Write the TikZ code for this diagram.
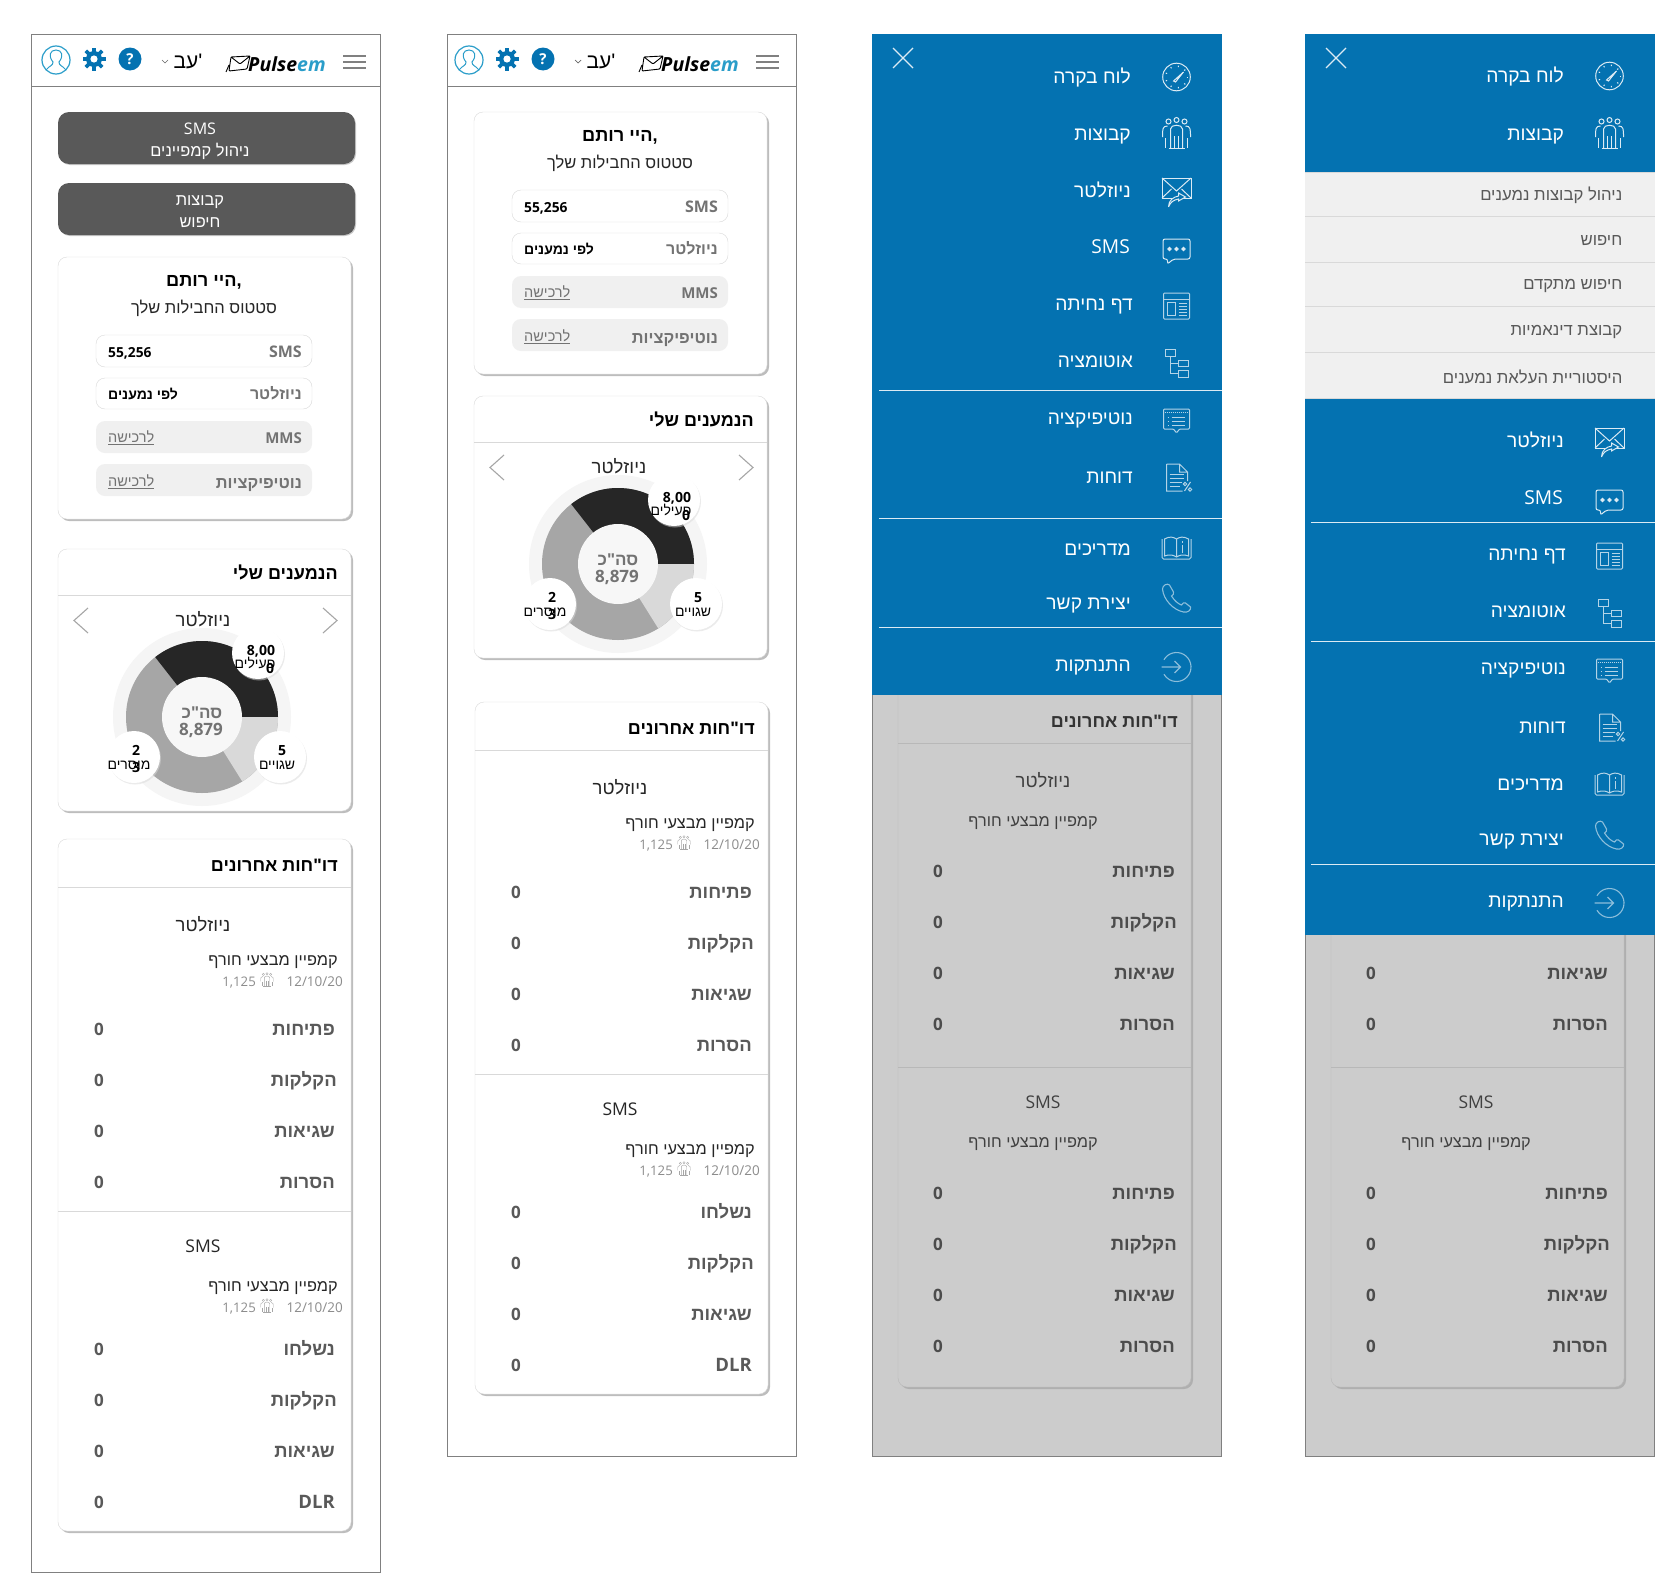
\documentclass[tikz,border=0pt]{standalone}
\usepackage{fontspec}
\setmainfont{Open Sans}
\newfontfamily\hebfont[Script=Hebrew]{Liberation Sans}
\TeXXeTstate=1
\usetikzlibrary{shadows}

\definecolor{menublue}{HTML}{0472B1}
\definecolor{frameline}{HTML}{808080}
\definecolor{btngray}{HTML}{595959}
\definecolor{dimfill}{HTML}{CCCCCC}
\definecolor{iconsoft}{HTML}{8CBEDB}
\definecolor{iconmid}{HTML}{B4D4E7}
\definecolor{iconline}{HTML}{DCEBF4}
\definecolor{logoblue}{HTML}{2A9DC9}

\newcommand\heb[1]{{\hebfont\beginR #1\endR}}

\tikzset{
    txt/.style={inner sep=0pt, anchor=mid east, font=\fontsize{#1}{#1}\selectfont},
    boldtxt/.style={inner sep=0pt, anchor=mid east, font=\bfseries\fontsize{#1}{#1}\selectfont},
    cardbox/.style={draw=black!15, fill=white, rounded corners=9pt, drop shadow={shadow xshift=2pt, shadow yshift=-2pt, fill=black!40, opacity=.65}},
    dimbox/.style={draw=black!28, fill=dimfill, rounded corners=9pt, drop shadow={shadow xshift=2pt, shadow yshift=-2pt, fill=black!45, opacity=.45}},
    cardline/.style={draw=black!15, line width=.8pt},
    btnbox/.style={fill=btngray, rounded corners=11pt, drop shadow={shadow xshift=1pt, shadow yshift=-1pt, fill=black!30, opacity=.7}},
    menuicon/.style={draw=iconline, line width=1pt},
    softicon/.style={draw=iconsoft, line width=1.1pt},
    midicon/.style={draw=iconmid, line width=1pt},
    menusep/.style={draw=iconline, line width=.9pt},
    subsep/.style={draw=black!15, line width=.9pt},
}

% menu icons, drawn round (0,0)
\newcommand\icongauge{%
    \draw (0,0) circle[radius=13.8];
    \foreach \a in {0,40,...,320} \draw (\a:10) -- (\a:11.5);
    \draw (-3,4) -- (7,-5) -- (-1,5) -- cycle;
}
\newcommand\icongroup{%
    \foreach \x/\y in {-8/-12.5,0/-14,8/-12.5} \draw (\x,\y) circle[radius=2.5];
    \draw (-6,14) -- (-6,-5) .. controls (-6,-10) and (6,-10) .. (6,-5) -- (6,14);
    \draw (-8,14) -- (8,14) (-2,2) -- (-2,14) (2,2) -- (2,14);
    \draw (-9,-8) .. controls (-14,-8) and (-14,-5) .. (-14,3) (9,-8) .. controls (14,-8) and (14,-5) .. (14,3);
    \draw (-11,4) -- (-11,14) (11,4) -- (11,14);
}
\newcommand\iconmail{%
    \draw (-14.5,-14) rectangle (14.5,6);
    \draw (-14.5,-14) -- (0,-1) -- (14.5,-14) (-14.5,6) -- (-5,-3) (14.5,6) -- (5,-3);
    \draw[fill=menublue] (-8,15) .. controls (-8,8) and (-3,5) .. (2,4) -- (2,1) -- (9,5) -- (2,9) -- (2,7) .. controls (-3,8) and (-6,10) .. (-8,15);
}
\newcommand\iconsms{%
    \draw[rounded corners=2pt] (-9,8) -- (-13.5,8) -- (-13.5,-12) -- (13.5,-12) -- (13.5,8) -- (-3,8) -- (-9,13) -- cycle;
    \foreach \x in {-7,0,7} \fill[iconline] (\x,-2) circle[radius=1.7];
}
\newcommand\iconpage{%
    \begin{scope}[every path/.append style={midicon}]
        \draw[rounded corners=1pt] (-13,-13) rectangle (13,13);
        \draw (-13,-7) -- (13,-7);
        \draw (-9,-4) rectangle (-1,9);
        \foreach \y in {-3,0,3,6,9} \draw (2,\y) -- (10,\y);
    \end{scope}
}
\newcommand\icontree{%
    \begin{scope}[every path/.append style={midicon}]
        \draw (-11,-14) rectangle (-1,-7) (2,-3) rectangle (12,3) (2,7) rectangle (12,14);
        \draw (-6,-7) -- (-6,10) -- (2,10) (-6,0) -- (2,0);
    \end{scope}
}
\newcommand\iconnotify{%
    \begin{scope}[every path/.append style={midicon}]
        \draw[rounded corners=1pt] (-3,8) -- (-13,8) -- (-13,-12) -- (13,-12) -- (13,8) -- (3,8) -- (0,12) -- cycle;
        \draw[densely dotted] (-12,-9) -- (12,-9);
        \foreach \y in {-4,0,4} {\draw (-9,\y) -- (-7.5,\y); \draw (-5,\y) -- (8,\y);}
    \end{scope}
}
\newcommand\iconreport{%
    \begin{scope}[every path/.append style={midicon}]
        \draw (-10,-14) -- (3,-14) -- (11,-6) -- (11,3) (3,-14) -- (3,-6) -- (11,-6) (-10,-14) -- (-10,13) -- (6,13);
        \foreach \y/\x in {-4/7,0/7,4/5,8/3} \draw (-7,\y) -- (\x,\y);
        \draw (8,13) -- (14,4) (8.5,6) circle[radius=1.7] (13.5,11.5) circle[radius=1.7];
    \end{scope}
}
\newcommand\iconbook{%
    \begin{scope}[every path/.append style={midicon}]
        \draw[rounded corners=1.5pt] (-14.5,-9) -- (-14.5,11) -- (14.5,11) -- (14.5,-9);
        \draw (-12,-9) .. controls (-7,-12) and (-3,-11) .. (0,-9) .. controls (3,-11) and (7,-12) .. (12,-9) -- (12,8) .. controls (7,6) and (3,7) .. (0,9) .. controls (-3,7) and (-7,6) .. (-12,8) -- cycle (0,-9) -- (0,9);
        \draw[line width=1.6pt] (6,-3) -- (6,5) (6,-7) -- (6,-5.5);
    \end{scope}
}
\newcommand\iconphone{%
    \draw[softicon] (-14,-9) .. controls (-14,-13) and (-9,-15) .. (-7,-13) -- (-3,-6) .. controls (-2,-4) and (-4,-3) .. (-5,-2) .. controls (-2,3) and (2,6) .. (5,7) .. controls (6,5) and (8,4) .. (9,5) -- (14,9) .. controls (15,12) and (11,15) .. (7,14) .. controls (-3,12) and (-13,2) .. (-14,-9) -- cycle;
}
\newcommand\iconlogout{%
    \begin{scope}[y=1pt]
        \draw[softicon] (150:14.5) arc (150:-150:14.5);
    \end{scope}
    \draw[softicon] (-15,0) -- (4,0) (-2,-6) -- (4,0) -- (-2,6);
}

\newcommand\menuitem[5]{% y of text, y of icon, right end of text, text, icon
    \node[txt=19.2, text=white] (item#1) at (#3,#1+.5) {#4};
    \begin{scope}[shift={(1176.5,#2)}, every path/.append style={menuicon}]
        #5
    \end{scope}
}

\newcommand\closemark{%
    \draw[iconline, line width=1.3pt] (893,48) -- (913,68) (913,48) -- (893,68);
}

\newcommand\topbar{%
    \draw[logoblue, line width=1.2pt] (56,60) circle[radius=14];
    \draw[logoblue, line width=1pt] (46,70) .. controls (50,65) and (53,66) .. (53,62) .. controls (48,56) and (50,50) .. (56,50) .. controls (62,50) and (64,56) .. (59,62) .. controls (59,66) and (62,65) .. (66,70);
    \foreach \a in {0,45,...,315} \draw[menublue, line width=3.6pt] (94,59) ++(\a:6) -- ++(\a:5.5);
    \fill[menublue] (94,59) circle[radius=8];
    \fill[white] (94,59) circle[radius=3.6];
    \node[circle, fill=menublue, text=white, minimum size=23pt, inner sep=0pt, font=\bfseries\fontsize{15}{15}\selectfont] (help) at (130,59) {?};
    \draw[black!60, line width=.7pt] (162,60) -- (165,63) -- (168,60);
    \node[txt=21, anchor=mid] (lang) at (188,62) {\heb{'עב}};
    \draw[black, line width=.9pt, rounded corners=1pt] (231,57) -- (250,56) -- (247,69) -- (229,71) -- cycle (231,57) -- (240,64) -- (250,56) (226,72) -- (229,65);
    \node[inner sep=0pt, anchor=mid west, font=\bfseries\itshape\fontsize{19.5}{20}\selectfont] (logo) at (248,65) {Pulse\textcolor{logoblue}{em}};
    \foreach \y in {56,62,68} \draw[frameline, line width=1.3pt] (343,\y) -- (366,\y);
}

% status of the packages, at the place it has in the first page
\newcommand\statuscard{%
    \draw[cardbox] (58,257) rectangle (351,519);
    \node[boldtxt=18.2, anchor=mid] (hello) at (204,280.5) {\heb{,היי רותם}};
    \node[txt=16.5, anchor=mid, text=black!85] (sub) at (204,307.5) {\heb{סטטוס החבילות שלך}};
    \foreach \a/\b/\c in {335/367/white,378/409/white} \draw[draw=black!15, fill=\c, rounded corners=9pt] (96,\a) rectangle (312,\b);
    \foreach \a/\b in {421/453,464/496} \fill[black!6, rounded corners=9pt] (96,\a) rectangle (312,\b);
    \node[boldtxt=16, text=black!55] (p1) at (302,351) {SMS};
    \node[boldtxt=16, text=black!55] (p2) at (302,393) {\heb{ניוזלטר}};
    \node[boldtxt=15, text=black!55] (p3) at (302,437.5) {MMS};
    \node[boldtxt=16.4, text=black!55] (p4) at (302,482) {\heb{נוטיפיקציות}};
    \node[boldtxt=13.8, anchor=mid west] (v1) at (108,351) {55,256};
    \node[boldtxt=14, anchor=mid west] (v2) at (108,393) {\heb{לפי נמענים}};
    \node[txt=14.5, anchor=mid west, text=black!55] (v3) at (108,436) {\underline{\heb{לרכישה}}};
    \node[txt=14.5, anchor=mid west, text=black!55] (v4) at (108,480) {\underline{\heb{לרכישה}}};
}

\newcommand\audiencecard{%
    \draw[cardbox] (58,549) rectangle (351,811);
    \draw[cardline] (58,595) -- (351,595);
    \node[boldtxt=18] (title) at (338,573) {\heb{הנמענים שלי}};
    \draw[black!35, line width=1.1pt] (88,608) -- (74,620.5) -- (88,633) (323,608) -- (337,620.5) -- (323,633);
    \node[txt=18.5, anchor=mid, text=black!85] (kind) at (203,620) {\heb{ניוזלטר}};
    \begin{scope}[shift={(202,717)}, y=1pt]
        \fill[black!4] (0,0) circle[radius=89];
        \fill[black!35] (0,0) circle[radius=76];
        \fill[black!85] (0,0) -- (0:76) arc (0:128:76) -- cycle;
        \fill[black!15] (0,0) -- (-58:76) arc (-58:0:76) -- cycle;
        \fill[black!3] (0,0) circle[radius=40];
    \end{scope}
    \node[boldtxt=17, anchor=mid, text=black!55] (sum1) at (202,712) {\heb{סה"כ}};
    \node[boldtxt=17, anchor=mid, text=black!55] (sum2) at (201,729) {8,879};
    \foreach \x/\y in {258/653,134/757,280/757} \fill[white, drop shadow={shadow xshift=1pt, shadow yshift=-1.5pt, fill=black!15, opacity=.5}] (\x,\y) circle[radius=26];
    \node[boldtxt=14, anchor=mid] (d1) at (261,649) {8,00};
    \node[txt=14, anchor=mid] (d2) at (255,662) {\heb{פעילים}};
    \node[boldtxt=14, anchor=mid] (d3) at (270,667) {0};
    \node[boldtxt=14, anchor=mid] (d4) at (136,749) {2};
    \node[txt=14, anchor=mid] (d5) at (129,763) {\heb{מוסרים}};
    \node[boldtxt=14, anchor=mid] (d6) at (136,766) {3};
    \node[boldtxt=14, anchor=mid] (d7) at (282,749) {5};
    \node[txt=14, anchor=mid] (d8) at (277,763) {\heb{שגויים}};
}

\newcommand\reportrow[5]{% y, x of the zero, right end of label, label, colour
    \node[boldtxt=18.5, text=#5] (l#1) at (#3,#1) {#4};
    \node[boldtxt=17, anchor=mid, text=#5] (z#1) at (#2,#1) {0};
}

\newcommand\metaline[1]{%
    \node[txt=13.5, text=black!45] (date#1) at (343,#1) {12/10/20};
    \node[txt=13.2, text=black!45] (count#1) at (256,#1) {1,125};
    \begin{scope}[shift={(267,#1)}, scale=.45, every path/.append style={draw=black!35, line width=.4pt}]
        \icongroup
    \end{scope}
}

\newcommand\reportcard{%
    \draw[cardbox] (58,839) rectangle (351,1531);
    \draw[cardline] (58,887) -- (351,887);
    \draw[cardline] (58,1211) -- (351,1211);
    \node[boldtxt=18] (title) at (338,865) {\heb{דו"חות אחרונים}};
    \node[txt=18.5, anchor=mid, text=black!85] (kind1) at (203,925) {\heb{ניוזלטר}};
    \node[txt=16.3, text=black!85] (camp1) at (338,959) {\heb{קמפיין מבצעי חורף}};
    \metaline{980}
    \reportrow{1029}{99}{335}{\heb{פתיחות}}{black!65}
    \reportrow{1080}{99}{337}{\heb{הקלקות}}{black!65}
    \reportrow{1131}{99}{335}{\heb{שגיאות}}{black!65}
    \reportrow{1182}{99}{335}{\heb{הסרות}}{black!65}
    \node[txt=17.5, anchor=mid, text=black!85] (kind2) at (203,1246) {SMS};
    \node[txt=16.3, text=black!85] (camp2) at (338,1285) {\heb{קמפיין מבצעי חורף}};
    \metaline{1306}
    \reportrow{1349}{99}{335}{\heb{נשלחו}}{black!65}
    \reportrow{1400}{99}{337}{\heb{הקלקות}}{black!65}
    \reportrow{1451}{99}{335}{\heb{שגיאות}}{black!65}
    \reportrow{1502}{99}{335}{DLR}{black!65}
}

% the greyed page behind the menu; what stands under the longer menu is apart
\newcommand\dimbase{%
    \draw[draw=frameline, fill=dimfill] (872,34) rectangle (1221.5,1456);
    \draw[dimbox] (898,650) rectangle (1191,1387);
    \draw[cardline, draw=black!28] (898,1067) -- (1191,1067);
    \reportrow{973}{938}{1175}{\heb{שגיאות}}{black!70}
    \reportrow{1024}{938}{1175}{\heb{הסרות}}{black!70}
    \node[txt=17.5, anchor=mid, text=black!75] (kind2) at (1043,1102) {SMS};
    \node[txt=16.3, text=black!75] (camp2) at (1098,1141) {\heb{קמפיין מבצעי חורף}};
    \reportrow{1193}{938}{1175}{\heb{פתיחות}}{black!70}
    \reportrow{1244}{938}{1177}{\heb{הקלקות}}{black!70}
    \reportrow{1295}{938}{1175}{\heb{שגיאות}}{black!70}
    \reportrow{1346}{938}{1175}{\heb{הסרות}}{black!70}
}
\newcommand\dimtop{%
    \draw[cardline, draw=black!28] (898,743) -- (1191,743);
    \node[boldtxt=18, text=black!80] (title) at (1178,721) {\heb{דו"חות אחרונים}};
    \node[txt=18.5, anchor=mid, text=black!75] (kind1) at (1043,781) {\heb{ניוזלטר}};
    \node[txt=16.3, text=black!75] (camp1) at (1098,820) {\heb{קמפיין מבצעי חורף}};
    \reportrow{871}{938}{1175}{\heb{פתיחות}}{black!70}
    \reportrow{922}{938}{1177}{\heb{הקלקות}}{black!70}
}

\begin{document}
\fontsize{24}{28}\selectfont
\begin{tikzpicture}[x=1pt, y=-1pt]
    \useasboundingbox (0,0) rectangle (1655,1574);

    % first page
    \begin{scope}[name prefix=one-]
        \draw[frameline, line width=1pt] (31,34) rectangle (380.5,1572.5);
        \draw[frameline, line width=1pt] (31,86) -- (380.5,86);
        \topbar
        \fill[btnbox] (58,112) rectangle (355,164);
        \fill[btnbox] (58,183) rectangle (355,235);
        \node[txt=16, anchor=mid, text=white] (b1) at (200,128) {SMS};
        \node[txt=16.4, anchor=mid, text=white] (b2) at (200,150) {\heb{ניהול קמפיינים}};
        \node[txt=16.4, anchor=mid, text=white] (b3) at (200,199) {\heb{קבוצות}};
        \node[txt=16.4, anchor=mid, text=white] (b4) at (200,221) {\heb{חיפוש}};
        \statuscard
        \audiencecard
        \reportcard
    \end{scope}

    % second page
    \draw[frameline, line width=1pt] (447.5,34) rectangle (796.5,1456);
    \draw[frameline, line width=1pt] (447.5,86) -- (796.5,86);
    \begin{scope}[name prefix=two-, shift={(413,0)}]
        \topbar
    \end{scope}
    \begin{scope}[name prefix=twos-, shift={(416,-145)}]
        \statuscard
    \end{scope}
    \begin{scope}[name prefix=twoa-, shift={(416,-153)}]
        \audiencecard
    \end{scope}
    \begin{scope}[name prefix=twor-, shift={(417,-137)}]
        \reportcard
    \end{scope}

    % third page, menu closed
    \begin{scope}[name prefix=three-]
        \dimbase
        \dimtop
        \fill[menublue] (872,33.5) rectangle (1221.5,695);
        \closemark
        \foreach \ytxt/\yico/\xtxt/\lbl/\ico in {
            77/77/1131/\heb{לוח בקרה}/\icongauge,
            134/134/1131/\heb{קבוצות}/\icongroup,
            191/192/1131/\heb{ניוזלטר}/\iconmail,
            247/251/1130/SMS/\iconsms,
            304/306/1133/\heb{דף נחיתה}/\iconpage,
            361/363/1133/\heb{אוטומציה}/\icontree,
            418/421/1133/\heb{נוטיפיקציה}/\iconnotify,
            477/478/1133/\heb{דוחות}/\iconreport,
            549/548/1131/\heb{מדריכים}/\iconbook,
            603/598/1131/\heb{יצירת קשר}/\iconphone}
            {\menuitem{\ytxt}{\yico}{\xtxt}{\lbl}{\ico}}
        \menuitem{665}{667}{1131}{\heb{התנתקות}}{\iconlogout}
        \foreach \y in {390,518,627} \draw[menusep] (879,\y) -- (1221.5,\y);
    \end{scope}

    % fourth page, menu open
    \begin{scope}[name prefix=four-, shift={(433,0)}]
        \dimbase
        \fill[menublue] (872,33.5) rectangle (1222,935);
        \closemark
        \fill[black!6] (872,172) rectangle (1222,399);
        \foreach \y in {172,216,262,306,352,398} \draw[subsep] (872,\y) -- (1222,\y);
        \foreach \n/\y/\lbl in {1/194/ניהול קבוצות נמענים,2/239/חיפוש,3/283/חיפוש מתקדם,4/329/קבוצת דינאמיות,5/377/היסטוריית העלאת נמענים}
            \node[txt=16.7, text=black!65] (sub\n) at (1189.5,\y) {\heb{\lbl}};
        \foreach \ytxt/\yico/\xtxt/\lbl/\ico in {
            76/76/1131/\heb{לוח בקרה}/\icongauge,
            134/134/1131/\heb{קבוצות}/\icongroup,
            441/442/1131/\heb{ניוזלטר}/\iconmail,
            498/502/1130/SMS/\iconsms,
            554/556/1133/\heb{דף נחיתה}/\iconpage,
            611/613/1133/\heb{אוטומציה}/\icontree,
            668/671/1133/\heb{נוטיפיקציה}/\iconnotify,
            727/728/1133/\heb{דוחות}/\iconreport,
            784/784/1131/\heb{מדריכים}/\iconbook,
            839/835/1131/\heb{יצירת קשר}/\iconphone}
            {\menuitem{\ytxt}{\yico}{\xtxt}{\lbl}{\ico}}
        \menuitem{901}{903}{1131}{\heb{התנתקות}}{\iconlogout}
        \foreach \y in {522,641,864} \draw[menusep] (878,\y) -- (1222,\y);
    \end{scope}
\end{tikzpicture}
\end{document}
